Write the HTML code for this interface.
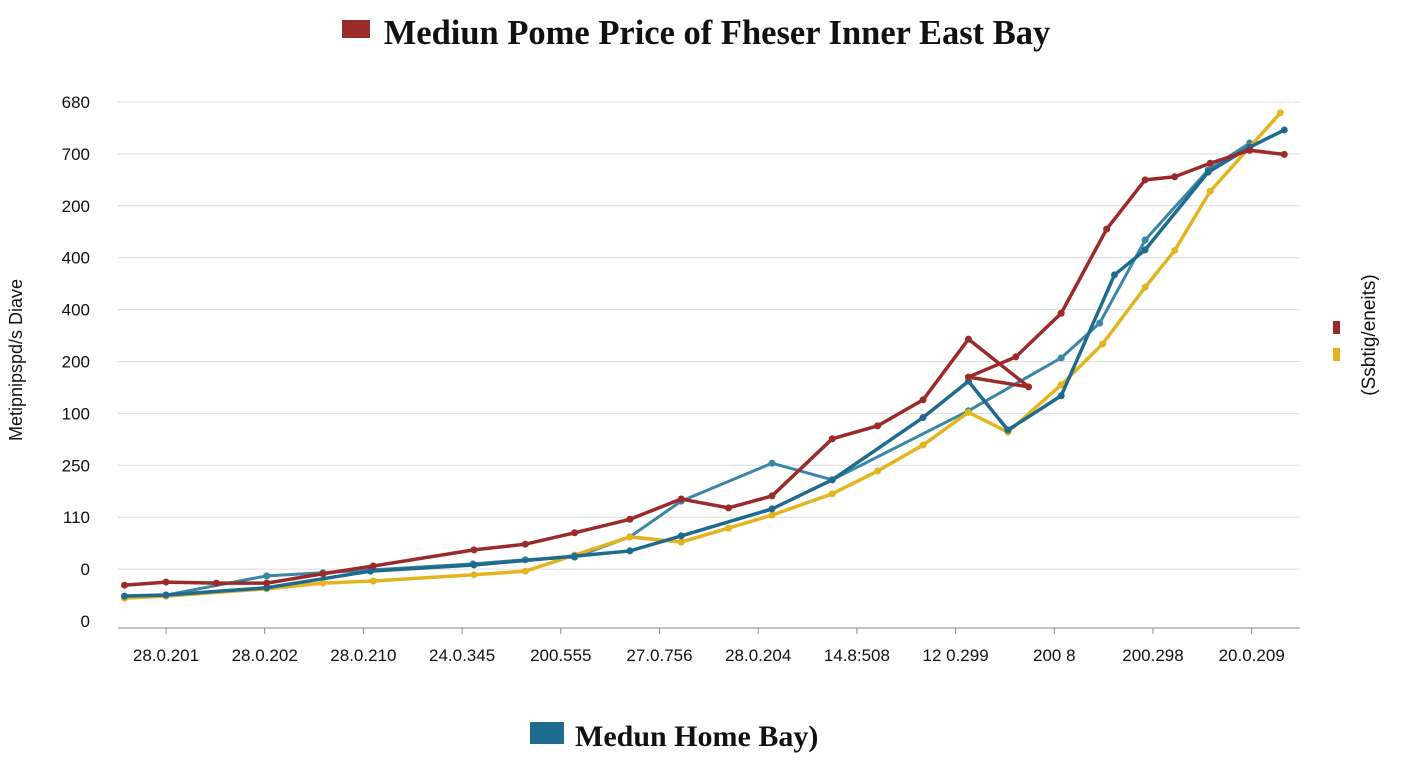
<!DOCTYPE html>
<html><head><meta charset="utf-8"><style>
body{margin:0;background:#fff;width:1408px;height:768px;overflow:hidden}
svg{display:block}
.tk{font-family:"Liberation Sans",sans-serif;font-size:17px;fill:#111}
</style></head><body>
<svg id="chart" width="1408" height="768">
<text x="717" y="44" text-anchor="middle" font-family="Liberation Serif,serif" font-weight="bold" font-size="34.5" fill="#111">Mediun Pome Price of Fheser Inner East Bay</text>
<rect x="342" y="20" width="28" height="18" fill="#9b2a2a"/>
<rect x="530" y="722" width="34" height="22" fill="#1f6b8e"/>
<text x="575" y="746" font-family="Liberation Serif,serif" font-weight="bold" font-size="30" fill="#111">Medun Home Bay)</text>
<text transform="translate(22,360) rotate(-90)" text-anchor="middle" font-family="Liberation Sans,sans-serif" font-size="18" fill="#111">Metipnipspd/s Diave</text>
<rect x="1333" y="321" width="7" height="13" fill="#9b2a2a"/>
<rect x="1333" y="348" width="7" height="13" fill="#e2b520"/>
<text transform="translate(1375,335) rotate(-90)" text-anchor="middle" font-family="Liberation Sans,sans-serif" font-size="19" fill="#111">(Ssbtig/eneits)</text>
<g id="grid"></g><g id="series"></g>
</svg>
<script>
const yTickLabels=["0","0","110","250","100","200","400","400","200","700","680"];
const xTickLabels=["28.0.201","28.0.202","28.0.210","24.0.345","200.555","27.0.756","28.0.204","14.8:508","12 0.299","200 8","200.298","20.0.209"];
const redT=[-0.42,0,0.51,1.02,1.59,2.10,3.12,3.64,4.14,4.70,5.22,5.70,6.14,6.75,7.21,7.67,8.13,8.74,8.13,8.61,9.07,9.53,9.92,10.22,10.58,10.98,11.33];
const redV=[0.69,0.75,0.73,0.73,0.91,1.06,1.37,1.48,1.70,1.96,2.35,2.18,2.41,3.51,3.76,4.26,5.43,4.51,4.70,5.09,5.93,7.55,8.50,8.56,8.82,9.07,8.99];
const blueT=[-0.42,0,1.02,2.07,3.12,4.14,4.70,5.22,6.14,6.75,7.67,8.13,8.53,9.07,9.61,9.92,10.56,10.98,11.33];
const blueV=[0.48,0.50,0.64,0.96,1.08,1.25,1.35,1.64,2.16,2.72,3.92,4.62,3.68,4.34,6.67,7.15,8.65,9.13,9.46];
const tealT=[0,1.02,1.59,3.11,3.64,4.14,4.70,5.22,6.14,6.75,8.13,9.07,9.46,9.92,10.56,10.98];
const tealV=[0.50,0.87,0.93,1.10,1.18,1.23,1.62,2.31,3.04,2.72,4.05,5.07,5.74,7.34,8.69,9.21];
const yelT=[-0.42,0,1.02,1.59,2.10,3.12,3.64,4.14,4.70,5.22,5.70,6.14,6.75,7.21,7.67,8.13,8.53,9.07,9.49,9.92,10.22,10.58,10.98,11.29];
const yelV=[0.44,0.48,0.62,0.73,0.77,0.89,0.96,1.27,1.62,1.52,1.79,2.04,2.45,2.89,3.39,4.02,3.64,4.55,5.34,6.43,7.14,8.28,9.13,9.79];
const NS="http://www.w3.org/2000/svg";
const X=t=>166+t*98.7, Y=v=>621-v*51.9;
function mk(tag,attrs,parent){const e=document.createElementNS(NS,tag);for(const k in attrs)e.setAttribute(k,attrs[k]);parent.appendChild(e);return e;}
const grid=document.getElementById('grid');
yTickLabels.forEach((l,i)=>{
 const yy=Y(i);
 if(i>=1){const g=mk('line',{x1:118,x2:1300,y1:yy,y2:yy,stroke:'#dcdcdc','stroke-width':1},grid);
 
 }
 const t=mk('text',{x:90,y:yy+6,'text-anchor':'end',class:'tk'},grid);t.textContent=l;
 
 
});
const ax=mk('line',{x1:118,x2:1300,y1:628,y2:628,stroke:'#888','stroke-width':1},grid);


xTickLabels.forEach((l,i)=>{
 const tk=mk('line',{x1:X(i),x2:X(i),y1:628,y2:634,stroke:'#888'},grid);
 
 
 const t=mk('text',{x:X(i),y:661,'text-anchor':'middle',class:'tk'},grid);t.textContent=l;
 
 
});
const sg=document.getElementById('series');
function draw(T,V,color,name,w){
 const p=mk('polyline',{points:T.map((t,i)=>X(t)+','+Y(V[i])).join(' '),fill:'none',stroke:color,'stroke-width':w,'stroke-linejoin':'round'},sg);
 
 
 T.forEach((t,i)=>{const c=mk('circle',{cx:X(t),cy:Y(V[i]),r:3.5,fill:color},sg);
 
 });
}
draw(tealT,tealV,'#3b86a6','teal-series',3);
draw(yelT,yelV,'#e2b520','yellow-series',3.5);
draw(blueT,blueV,'#1f6b8e','blue-series',3.5);
draw(redT,redV,'#9b2a2a','red-series',3.5);
</script>
</body></html>
